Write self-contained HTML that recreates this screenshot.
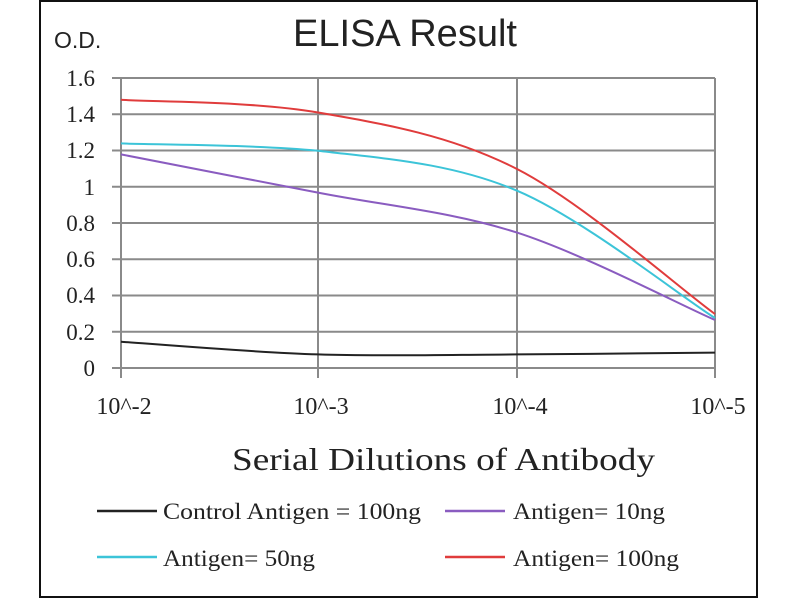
<!DOCTYPE html>
<html><head><meta charset="utf-8"><style>
html,body{margin:0;padding:0;background:#fff;}
svg{display:block;}
</style></head><body>
<svg width="800" height="600" viewBox="0 0 800 600" xmlns="http://www.w3.org/2000/svg">
<rect x="0" y="0" width="800" height="600" fill="#fff"/>
<rect x="40" y="1" width="717" height="596" fill="none" stroke="#111" stroke-width="2"/>
<text x="405" y="46" font-family="Liberation Sans, sans-serif" font-size="38" text-anchor="middle" fill="#222">ELISA Result</text>
<text x="54" y="48" font-family="Liberation Sans, sans-serif" font-size="23" fill="#222">O.D.</text>
<g stroke="#8a8a8a" stroke-width="2">
<line x1="112" y1="78" x2="715" y2="78"/>
<line x1="112" y1="114.3" x2="715" y2="114.3"/>
<line x1="112" y1="150.5" x2="715" y2="150.5"/>
<line x1="112" y1="186.8" x2="715" y2="186.8"/>
<line x1="112" y1="223" x2="715" y2="223"/>
<line x1="112" y1="259.3" x2="715" y2="259.3"/>
<line x1="112" y1="295.5" x2="715" y2="295.5"/>
<line x1="112" y1="331.8" x2="715" y2="331.8"/>
<line x1="112" y1="368" x2="715" y2="368"/>
<line x1="121" y1="78" x2="121" y2="378"/>
<line x1="318" y1="78" x2="318" y2="378"/>
<line x1="517" y1="78" x2="517" y2="378"/>
<line x1="715" y1="78" x2="715" y2="378"/>
</g>
<g font-family="Liberation Serif, serif" font-size="23" fill="#222" text-anchor="end">
<text x="95" y="86">1.6</text>
<text x="95" y="122">1.4</text>
<text x="95" y="158">1.2</text>
<text x="95" y="195">1</text>
<text x="95" y="231">0.8</text>
<text x="95" y="267">0.6</text>
<text x="95" y="303">0.4</text>
<text x="95" y="340">0.2</text>
<text x="95" y="376">0</text>
</g>
<g font-family="Liberation Serif, serif" font-size="24" fill="#222" text-anchor="middle">
<text x="124" y="414">10^-2</text>
<text x="321" y="414">10^-3</text>
<text x="520" y="414">10^-4</text>
<text x="718" y="414">10^-5</text>
</g>
<text x="232" y="470" font-family="Liberation Serif, serif" font-size="32" fill="#222" textLength="423" lengthAdjust="spacingAndGlyphs">Serial Dilutions  of Antibody</text>
<g fill="none" stroke-width="2">
<path d="M121,99.8 C151.3,101.9 251.5,101 318,112.5 C384.5,124 451,135.4 517,169 C583,202.6 681,289.8 715,314" stroke="#e03c3c"/>
<path d="M121,143.4 C151.3,144.6 251.5,144.5 318,150.7 C384.5,158.6 451,162.8 517,190.7 C583,218.6 681,296.8 715,318" stroke="#3cc4d8"/>
<path d="M121,154.4 C151.3,160.8 251.5,179.6 318,192.6 C384.5,205.6 451,211.4 517,232.6 C583,253.8 681,305.4 715,320" stroke="#8a5cc0"/>
<path d="M121,341.7 C151.3,343.8 251.5,352.3 318,354.4 C384.5,356.5 451,354.7 517,354.4 C583,354.1 681,352.9 715,352.6" stroke="#222"/>
</g>
<g stroke-width="2.5">
<line x1="97" y1="511" x2="157" y2="511" stroke="#222"/>
<line x1="445" y1="511" x2="505" y2="511" stroke="#8a5cc0"/>
<line x1="97" y1="557" x2="157" y2="557" stroke="#3cc4d8"/>
<line x1="445" y1="557" x2="505" y2="557" stroke="#e03c3c"/>
</g>
<g font-family="Liberation Serif, serif" font-size="23" fill="#222" lengthAdjust="spacingAndGlyphs">
<text x="163" y="519" textLength="258" lengthAdjust="spacingAndGlyphs">Control Antigen = 100ng</text>
<text x="513" y="519" textLength="152" lengthAdjust="spacingAndGlyphs">Antigen= 10ng</text>
<text x="163" y="566" textLength="152" lengthAdjust="spacingAndGlyphs">Antigen= 50ng</text>
<text x="513" y="566" textLength="166" lengthAdjust="spacingAndGlyphs">Antigen= 100ng</text>
</g>
</svg>
</body></html>
